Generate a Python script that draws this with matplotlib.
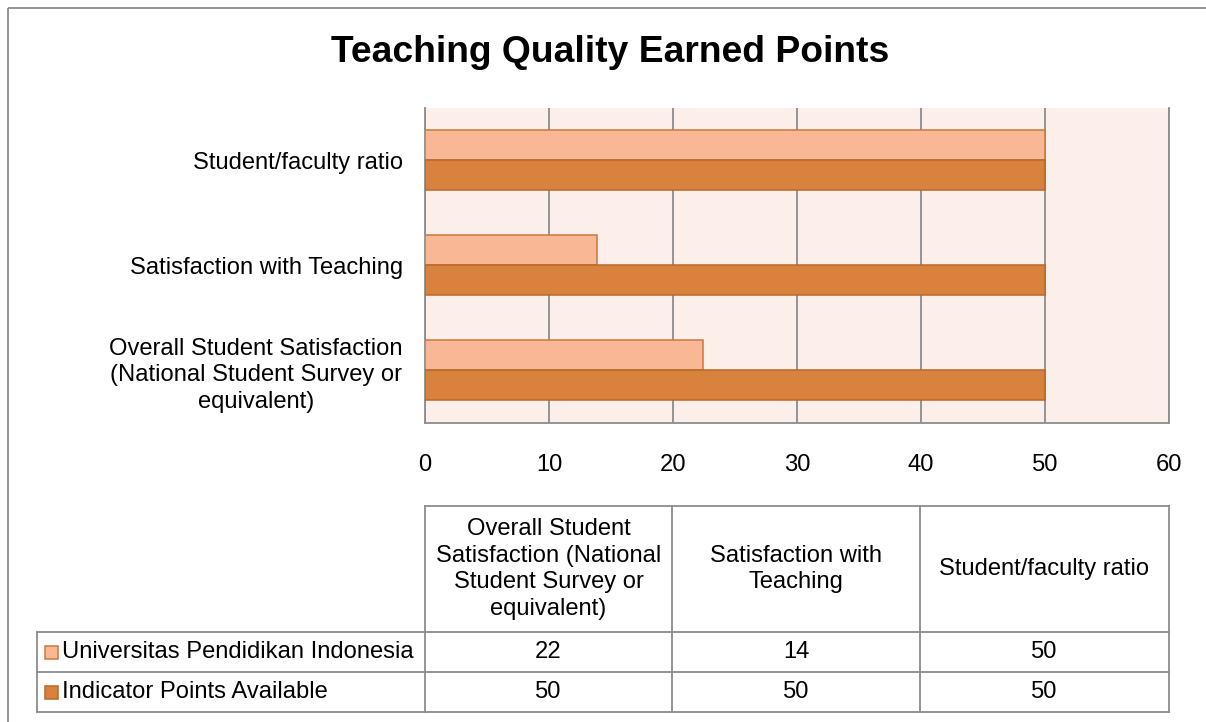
import matplotlib.pyplot as plt
from matplotlib.patches import Rectangle

plt.rcParams['font.family'] = ['Liberation Sans', 'DejaVu Sans']

# data
categories = ["Overall Student Satisfaction\n(National Student Survey or\nequivalent)",
              "Satisfaction with Teaching",
              "Student/faculty ratio"]
table_headers = ["Overall Student\nSatisfaction (National\nStudent Survey or\nequivalent)",
                 "Satisfaction with\nTeaching",
                 "Student/faculty ratio"]
series_names = ["Universitas Pendidikan Indonesia", "Indicator Points Available"]
upi_points = [22.4, 13.9, 50]
available_points = [50, 50, 50]
x_ticks = [0, 10, 20, 30, 40, 50, 60]

light = "#F9B795"
light_edge = "#C87A3E"
dark = "#D9823E"
dark_edge = "#B8682A"
grid_grey = "#8C8C8C"
fs = 17.1

W, H = 1206, 722
fig = plt.figure(figsize=(W / 100, H / 100), dpi=100)

# overlay in pixel coordinates for frame and data table
bg = fig.add_axes([0, 0, 1, 1])
bg.set_xlim(0, W)
bg.set_ylim(H, 0)
bg.axis("off")
bg.add_patch(Rectangle((8, 8), W + 20, H + 20, fill=False, edgecolor=grid_grey, lw=1.3))

# main bar chart
ax = fig.add_axes([425 / W, 1 - 423 / H, 744 / W, 315 / H])
ax.set_facecolor("#FCEEE9")
bh = 30 / 105
ypos = range(len(categories))
ax.barh([y + bh / 2 for y in ypos], upi_points, height=bh, color=light,
        edgecolor=light_edge, lw=1.1, zorder=3)
ax.barh([y - bh / 2 for y in ypos], available_points, height=bh, color=dark,
        edgecolor=dark_edge, lw=1.1, zorder=3)
ax.set_xlim(0, 60)
ax.set_ylim(-0.5, len(categories) - 0.5)
ax.set_xticks(x_ticks)
ax.set_xticklabels([str(t) for t in x_ticks], fontsize=fs)
ax.set_yticks(list(ypos))
ax.set_yticklabels(categories, fontsize=fs)
for lab in ax.get_yticklabels():
    lab.set_multialignment("center")
    lab.set_linespacing(1.29)
ax.tick_params(axis="x", length=0, pad=22)
ax.tick_params(axis="y", length=0, pad=16)
ax.grid(axis="x", color=grid_grey, lw=1.3, zorder=1)
ax.spines["top"].set_visible(False)
for s in ["left", "bottom", "right"]:
    ax.spines[s].set_color(grid_grey)
    ax.spines[s].set_linewidth(1.3)

fig.text(610 / W, 1 - 53 / H, "Teaching Quality Earned Points", ha="center",
         va="center", fontsize=26.8, fontweight="bold")

# data table below the chart
col_x = [425, 672, 920, 1169]
leg_x = 37
row_y = [506, 632, 672, 712]
tcol = grid_grey
bg.plot([col_x[0], col_x[-1]], [row_y[0], row_y[0]], color=tcol, lw=1.3)
for y in row_y[1:]:
    bg.plot([leg_x, col_x[-1]], [y, y], color=tcol, lw=1.3)
for x in col_x:
    bg.plot([x, x], [row_y[0], row_y[-1]], color=tcol, lw=1.3)
bg.plot([leg_x, leg_x], [row_y[1], row_y[-1]], color=tcol, lw=1.3)

for i, h in enumerate(table_headers):
    bg.text((col_x[i] + col_x[i + 1]) / 2, (row_y[0] + row_y[1]) / 2, h,
            ha="center", va="center", fontsize=fs, linespacing=1.27)

rows = [upi_points, available_points]
fills = [(light, light_edge), (dark, dark_edge)]
for r, (name, vals) in enumerate(zip(series_names, rows)):
    yc = (row_y[r + 1] + row_y[r + 2]) / 2
    bg.add_patch(Rectangle((45, yc - 6.5), 13, 13, facecolor=fills[r][0],
                           edgecolor=fills[r][1], lw=1.1))
    bg.text(62, yc, name, ha="left", va="center", fontsize=fs)
    for i, v in enumerate(vals):
        bg.text((col_x[i] + col_x[i + 1]) / 2, yc, "%.0f" % v,
                ha="center", va="center", fontsize=fs)

fig.savefig("out.png", dpi=100)
